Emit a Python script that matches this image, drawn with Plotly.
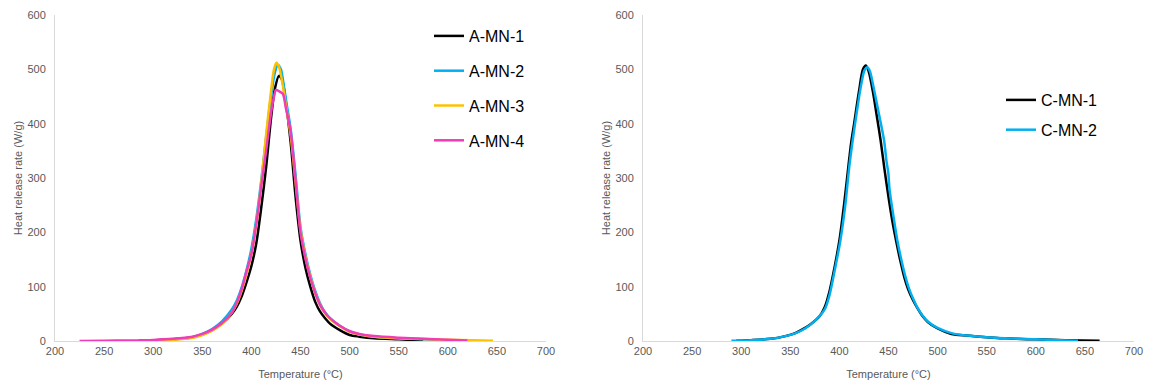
import plotly.graph_objects as go

# ---------------- data ----------------
# Left panel
A1_T = [285, 300, 320, 340, 350, 360, 370, 380, 385, 390, 395, 400, 405, 410, 415, 420, 424, 428, 431, 435, 440, 445, 450, 455, 460, 465, 470, 475, 480, 490, 500, 510, 525, 550, 575]
A1_V = [0.5, 1, 3, 7, 12, 20, 32, 50, 63, 82, 108, 138, 180, 245, 320, 410, 465, 488, 482, 440, 365, 265, 185, 135, 100, 72, 54, 42, 32, 20, 11, 8, 5, 3, 1]

A2_T = [290, 300, 320, 340, 350, 360, 370, 380, 385, 390, 395, 400, 405, 410, 415, 420, 424, 427, 430, 433, 436, 440, 445, 450, 455, 460, 465, 470, 475, 480, 490, 500, 510, 525, 550, 575, 590]
A2_V = [0.5, 1, 3, 7, 13, 22, 36, 58, 74, 98, 130, 170, 225, 295, 375, 450, 495, 508, 500, 470, 435, 390, 305, 210, 160, 122, 92, 69, 53, 42, 28, 18, 12, 8, 5, 3, 2]

A3_T = [290, 300, 320, 340, 350, 360, 370, 380, 385, 390, 395, 400, 405, 410, 415, 420, 423, 425.5, 428, 432, 435, 440, 445, 450, 455, 460, 465, 470, 475, 480, 490, 500, 510, 525, 550, 575, 600, 625, 646]
A3_V = [0.5, 1, 2.5, 6, 11, 19, 31, 52, 68, 92, 122, 160, 215, 290, 380, 460, 500, 512, 505, 470, 435, 378, 292, 205, 155, 118, 88, 66, 51, 41, 27, 17, 12, 8, 5, 3.5, 2.5, 1.5, 0.5]

A4_T = [225, 250, 275, 300, 320, 340, 350, 360, 370, 380, 385, 390, 395, 400, 405, 410, 415, 420, 423, 425, 428, 432, 435, 440, 445, 450, 455, 460, 465, 470, 475, 480, 490, 500, 510, 525, 550, 575, 600, 620]
A4_V = [0, 0.5, 1, 2, 4, 8, 13, 21, 33, 52, 70, 95, 128, 160, 215, 285, 350, 420, 450, 462, 460, 455, 430, 385, 295, 200, 152, 116, 88, 66, 52, 42, 28, 18, 13, 9, 6, 4, 2.5, 1]

# Right panel
C1_T = [295, 310, 330, 345, 353, 360, 370, 380, 385, 390, 395, 400, 405, 410, 412, 415, 420, 424, 427, 430, 434, 438, 442, 446, 450, 454, 458, 462, 466, 470, 475, 479, 485, 490, 500, 514, 530, 550, 565, 570, 580, 600, 630, 665]
C1_V = [0.5, 1.5, 4, 9, 13, 19, 30, 46, 62, 92, 135, 185, 255, 335, 365, 400, 460, 500, 507, 495, 460, 415, 369, 315, 265, 220, 182, 148, 118, 95, 75, 62, 45, 35, 23, 13, 10, 7, 5, 5, 4, 3, 1.5, 0.5]

C2_T = [290, 310, 330, 345, 355, 365, 375, 385, 390, 395, 401, 406, 410, 413.5, 418, 422, 425.5, 428.4, 431, 435, 440, 445.5, 448, 449.8, 451, 455, 459, 463, 467, 471, 475, 479, 485, 490, 500, 515, 530, 550, 575, 600, 625, 643]
C2_V = [0.3, 1.5, 4, 9, 14, 23, 37, 58, 85, 128, 185, 250, 320, 369, 425, 470, 498, 504, 497, 465, 420, 369, 330, 310, 280, 230, 185, 150, 120, 96, 78, 63, 46, 36, 24, 14, 10, 7, 4.5, 3, 1.5, 0.5]

LEFT_NAMES = ["A-MN-1", "A-MN-2", "A-MN-3", "A-MN-4"]
RIGHT_NAMES = ["C-MN-1", "C-MN-2"]

X_TICKS = [200, 250, 300, 350, 400, 450, 500, 550, 600, 650, 700]
Y_TICKS = [0, 100, 200, 300, 400, 500, 600]

# ---------------- styling ----------------
BLACK = "#000000"
BLUE = "#00B0F0"
YELLOW = "#FFC000"
PINK = "#F23CB5"
GREY_TXT = "#595959"
AXIS_LINE = "#D9D9D9"
FONT = "Liberation Sans, Arial, sans-serif"

fig = go.Figure()

left_series = [(A1_T, A1_V, BLACK), (A2_T, A2_V, BLUE), (A3_T, A3_V, YELLOW), (A4_T, A4_V, PINK)]
for name, (t, v, c) in zip(LEFT_NAMES, left_series):
    fig.add_trace(go.Scatter(x=t, y=v, mode="lines", name=name,
                             line=dict(color=c, width=2.5, shape="spline", smoothing=0.8),
                             xaxis="x", yaxis="y", legend="legend", legendgroup=name))

right_series = [(C1_T, C1_V, BLACK), (C2_T, C2_V, BLUE)]
for name, (t, v, c) in zip(RIGHT_NAMES, right_series):
    fig.add_trace(go.Scatter(x=t, y=v, mode="lines", name=name,
                             line=dict(color=c, width=2.5, shape="spline", smoothing=0.8),
                             xaxis="x2", yaxis="y2", legend="legend2", legendgroup=name))

W, H = 1149, 385
L_X0, L_X1 = 55, 546
R_X0, R_X1 = 643, 1134

xcommon = dict(range=[200, 700], tickvals=X_TICKS, showgrid=False, zeroline=False,
               showline=True, linecolor=AXIS_LINE, linewidth=1, ticks="",
               tickfont=dict(family=FONT, size=11, color=GREY_TXT),
               title=dict(text="Temperature (°C)", font=dict(family=FONT, size=11, color=GREY_TXT), standoff=14),
               automargin=False, fixedrange=True)
ycommon = dict(range=[0, 600], tickvals=Y_TICKS, showgrid=False, zeroline=False,
               showline=True, linecolor=AXIS_LINE, linewidth=1, ticks="",
               tickfont=dict(family=FONT, size=11, color=GREY_TXT),
               title=dict(text="Heat release rate (W/g)", font=dict(family=FONT, size=11, color=GREY_TXT), standoff=2),
               automargin=False, fixedrange=True, ticklabelstandoff=6)

fig.update_layout(
    width=W, height=H,
    margin=dict(l=0, r=0, t=15, b=44),
    paper_bgcolor="white", plot_bgcolor="white",
    xaxis=dict(domain=[L_X0 / W, L_X1 / W], anchor="y", **xcommon),
    yaxis=dict(domain=[0, 1], anchor="x", **ycommon),
    xaxis2=dict(domain=[R_X0 / W, R_X1 / W], anchor="y2", **xcommon),
    yaxis2=dict(domain=[0, 1], anchor="x2", **ycommon),
    legend=dict(x=429 / W, xanchor="left", y=(341 - 19) / 326, yanchor="top",
                font=dict(family=FONT, size=16, color="black"),
                bgcolor="rgba(0,0,0,0)", tracegroupgap=11, itemwidth=30),
    legend2=dict(x=1001 / W, xanchor="left", y=(341 - 83) / 326, yanchor="top",
                 font=dict(family=FONT, size=16, color="black"),
                 bgcolor="rgba(0,0,0,0)", tracegroupgap=6, itemwidth=30),
    showlegend=True,
)

fig.write_html("out.html", config={"displayModeBar": False},
               post_script="document.body.style.margin='0';document.body.style.padding='0';")
